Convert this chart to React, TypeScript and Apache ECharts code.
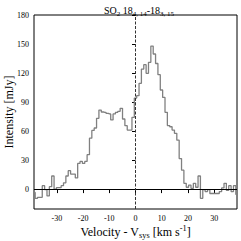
import React, { useEffect, useRef } from "react";
import * as echarts from "echarts";

const velocities = [
  -38.7, -37.8, -36.9, -36.0, -35.1, -34.2, -33.3, -32.4, -31.5, -30.6,
  -29.7, -28.8, -27.9, -27.0, -26.1, -25.2, -24.3, -23.4, -22.5, -21.6,
  -20.7, -19.8, -18.9, -18.0, -17.1, -16.2, -15.3, -14.4, -13.5, -12.6,
  -11.7, -10.8, -9.9, -9.0, -8.1, -7.2, -6.3, -5.4, -4.5, -3.6,
  -2.7, -1.8, -0.9, 0.0, 0.9, 1.8, 2.7, 3.6, 4.5, 5.4,
  6.3, 7.2, 8.1, 9.0, 9.9, 10.8, 11.7, 12.6, 13.5, 14.4,
  15.3, 16.2, 17.1, 18.0, 18.9, 19.8, 20.7, 21.6, 22.5, 23.4,
  24.3, 25.2, 26.1, 27.0, 27.9, 28.8, 29.7, 30.6, 31.5, 32.4,
  33.3, 34.2, 35.1, 36.0, 36.9, 37.8, 38.7,
];

const intensity = [
  -3, -9, -8, -8, 4, 0, -6.5, 3, 14, 0.5,
  2, 2, 4, 7, 14, 19.5, 16, 16, 12, 27,
  29, 27, 29, 36, 53, 61, 63.5, 73.5, 82, 80,
  79.7, 78.6, 78, 71.8, 78, 79.7, 80.7, 83.8, 72.8, 65.9,
  61.4, 61.4, 74.5, 94.4, 96.8, 109.6, 124.3, 128.8, 119.9, 131.2,
  148, 139.8, 130, 118.5, 102.7, 95, 79.7, 66, 64.8, 61.4,
  58, 51, 32, 20, 6.5, 2.4, 4.7, 1.3, 6.5, 2.4,
  14, -9, 0, -2, 0, -4, -4, -4, -4, -2,
  1.7, 6.5, -0.7, 4, -2, 4, -5,
];

const xTicks = [-30, -20, -10, 0, 10, 20, 30];
const yTicks = [0, 30, 60, 90, 120, 150, 180];

const FONT = "'Liberation Serif', 'Times New Roman', serif";

export default function App() {
  const ref = useRef<HTMLDivElement>(null);
  useEffect(() => {
    if (!ref.current) return;
    const chart = echarts.init(ref.current, null, { renderer: "svg" });
    const base = { fontFamily: FONT, fontWeight: "normal", color: "#000" };
    chart.setOption({
      animation: false,
      backgroundColor: "#fff",
      title: {
        text: "{a|SO}{s|2}{a| 18}{s|4, 14}{a|-18}{s|3, 15}",
        left: 134,
        textAlign: "center",
        top: 0,
        textStyle: {
          ...base,
          fontSize: 10,
          rich: {
            a: { ...base, fontSize: 10, lineHeight: 12, verticalAlign: "top" },
            s: { ...base, fontSize: 7, lineHeight: 8, verticalAlign: "bottom" },
          },
        },
      },
      grid: {
        left: 34,
        right: 4,
        top: 15,
        bottom: 32,
        show: true,
        borderColor: "#000",
        borderWidth: 1,
        backgroundColor: "transparent",
        containLabel: false,
        outerBoundsMode: "none",
      },
      xAxis: {
        type: "value",
        min: velocities[0],
        max: velocities[velocities.length - 1],
        axisLine: { show: false },
        splitLine: { show: false },
        axisTick: { show: true, customValues: xTicks, length: 3.5, lineStyle: { color: "#000", width: 1 } },
        axisLabel: {
          customValues: xTicks,
          ...base,
          fontSize: 8,
          margin: 5,
        },
        name: "{a|Velocity - V}{s|sys}{a| [km s}{p|-1}{a|]}",
        nameLocation: "middle",
        nameGap: 15,
        nameMoveOverlap: false,
        nameTextStyle: {
          ...base,
          fontSize: 12,
          rich: {
            a: { ...base, fontSize: 12, lineHeight: 15, verticalAlign: "middle" },
            s: { ...base, fontSize: 8.4, lineHeight: 8, verticalAlign: "bottom" },
            p: { ...base, fontSize: 8.4, lineHeight: 9, verticalAlign: "top" },
          },
        },
      },
      yAxis: {
        type: "value",
        min: -20,
        max: 180,
        axisLine: { show: false },
        splitLine: { show: false },
        axisTick: { show: true, customValues: yTicks, length: 3.5, lineStyle: { color: "#000", width: 1 } },
        axisLabel: {
          customValues: yTicks,
          ...base,
          fontSize: 8,
          margin: 5,
        },
        name: "Intensity [mJy]",
        nameLocation: "middle",
        nameGap: 19,
        nameMoveOverlap: false,
        nameTextStyle: { ...base, fontSize: 12 },
      },
      series: [
        {
          type: "line",
          data: velocities.map((v, i) => [v, intensity[i]]),
          step: "middle",
          showSymbol: false,
          lineStyle: { color: "#808080", width: 1.3 },
          z: 3,
          markLine: {
            silent: true,
            symbol: "none",
            label: { show: false },
            data: [
              { yAxis: 0, lineStyle: { color: "#000", width: 1, type: "solid" } },
              { xAxis: 0, lineStyle: { color: "#333", width: 1, type: [3, 1.5] } },
            ],
          },
        },
      ],
    });
    return () => chart.dispose();
  }, []);
  return (
    <div
      ref={ref}
      style={{ position: "fixed", left: 0, top: 0, width: 241, height: 241 }}
    />
  );
}
